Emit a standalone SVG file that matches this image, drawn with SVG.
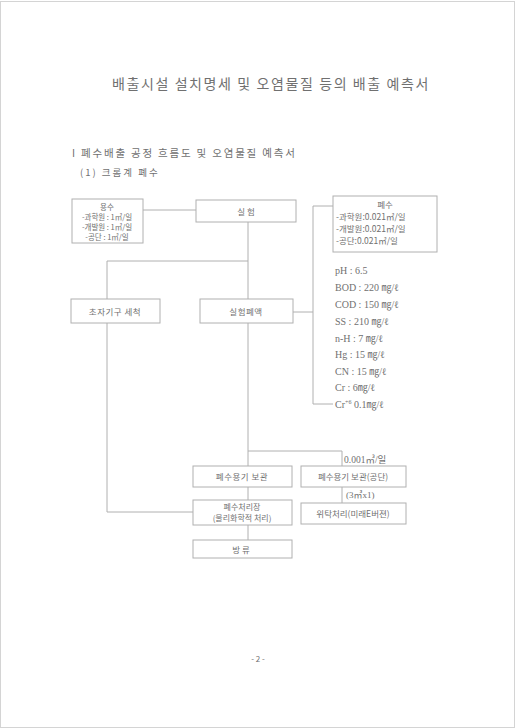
<svg xmlns="http://www.w3.org/2000/svg" width="516" height="728" viewBox="0 0 516 728">
<style>
.t{font-family:"Noto Sans CJK KR","Liberation Serif",serif;fill:#707070}
.s{font-family:"Liberation Serif","Noto Sans CJK KR",serif;fill:#707070}
.b{fill:#fff;stroke:#b0b0b0;stroke-width:1}
.c{fill:none;stroke:#b0b0b0;stroke-width:1}
.m{text-anchor:middle}
</style>
<rect x="0" y="0" width="516" height="728" fill="#fff"/>
<rect x="0.5" y="1.5" width="514" height="726" fill="none" stroke="#d4d4d4"/>
<text class="t m" x="271" y="89" font-size="14" letter-spacing="1.6">배출시설 설치명세 및 오염물질 등의 배출 예측서</text>
<text class="t" x="72" y="157" font-size="10.5" letter-spacing="1.8">I 폐수배출 공정 흐름도 및 오염물질 예측서</text>
<text class="t" x="80" y="176" font-size="9.5" letter-spacing="2">(1) 크롬계 폐수</text>
<g id="connectors">
<path class="c" d="M143 210H196"/>
<path class="c" d="M313 206H333M313 206V404H333"/>
<path class="c" d="M293 312H313"/>
<path class="c" d="M248 222V299M107 261H248M107 261V299"/>
<path class="c" d="M107 323V512H193"/>
<path class="c" d="M248 323V466M248 487V500M248 525V540"/>
<path class="c" d="M248 451H342V466M342 487V503"/>
</g>
<g id="n_yongsu">
<rect class="b" x="72" y="199" width="71" height="44"/>
<text class="t m" x="107" y="209.5" font-size="7.5">용수</text>
<text class="t m" x="107" y="219.5" font-size="7.5">-과학원 : 1㎥/일</text>
<text class="t m" x="107" y="229.5" font-size="7.5">-개발원 : 1㎥/일</text>
<text class="t m" x="107" y="239.5" font-size="7.5">-공단 : 1㎥/일</text>
</g>
<g id="n_silheom">
<rect class="b" x="196" y="200" width="100" height="22"/>
<text class="t m" x="246" y="214.5" font-size="8.5">실   험</text>
</g>
<g id="n_pyesu">
<rect class="b" x="333" y="196" width="104" height="56"/>
<text class="t m" x="385" y="208" font-size="8.5">폐수</text>
<text class="t" x="336" y="220" font-size="8.5">-과학원:0.021㎥/일</text>
<text class="t" x="336" y="232" font-size="8.5">-개발원:0.021㎥/일</text>
<text class="t" x="336" y="244" font-size="8.5">-공단:0.021㎥/일</text>
</g>
<g id="n_choja">
<rect class="b" x="71" y="299" width="89" height="24"/>
<text class="t m" x="115" y="314.5" font-size="8.5" letter-spacing="0.5">초자기구 세척</text>
</g>
<g id="n_pyeaek">
<rect class="b" x="200" y="299" width="93" height="24"/>
<text class="t m" x="246" y="314.5" font-size="8.5" letter-spacing="0.5">실험폐액</text>
</g>
<g id="n_pollutants">
<text class="s" x="335" y="274" font-size="10">pH : 6.5</text>
<text class="s" x="335" y="291" font-size="10">BOD : 220 ㎎/ℓ</text>
<text class="s" x="335" y="308" font-size="10">COD : 150 ㎎/ℓ</text>
<text class="s" x="335" y="325" font-size="10">SS : 210 ㎎/ℓ</text>
<text class="s" x="335" y="342" font-size="10">n-H : 7 ㎎/ℓ</text>
<text class="s" x="335" y="358" font-size="10">Hg : 15 ㎎/ℓ</text>
<text class="s" x="335" y="375" font-size="10">CN : 15 ㎎/ℓ</text>
<text class="s" x="335" y="391" font-size="10">Cr : 6㎎/ℓ</text>
<text class="s" x="335" y="408" font-size="10">Cr<tspan font-size="6" dy="-4">+6</tspan><tspan dy="4"> 0.1㎎/ℓ</tspan></text>
</g>
<g id="n_bogwan">
<rect class="b" x="193" y="466" width="99" height="21"/>
<text class="t m" x="242" y="480" font-size="8.5" letter-spacing="0.5">폐수용기 보관</text>
</g>
<g id="n_gongdan">
<text class="s" x="344" y="463" font-size="9.5">0.001㎥/일</text>
<rect class="b" x="301" y="466" width="105" height="21"/>
<text class="t m" x="353" y="480" font-size="8.5">폐수용기 보관(공단)</text>
<text class="s" x="346" y="498" font-size="9">(3㎥x1)</text>
</g>
<g id="n_cheorijang">
<rect class="b" x="193" y="500" width="99" height="25"/>
<text class="t m" x="242" y="510" font-size="8">폐수처리장</text>
<text class="t m" x="242" y="521" font-size="8">(물리화학적 처리)</text>
</g>
<g id="n_wituk">
<rect class="b" x="301" y="503" width="105" height="21"/>
<text class="t m" x="353" y="517" font-size="8.5">위탁처리(미래E버젼)</text>
</g>
<g id="n_bangryu">
<rect class="b" x="193" y="540" width="99" height="18"/>
<text class="t m" x="242" y="552.5" font-size="8.5" letter-spacing="2">방류</text>
</g>
<text class="t m" x="258" y="662" font-size="8">- 2 -</text>
</svg>
